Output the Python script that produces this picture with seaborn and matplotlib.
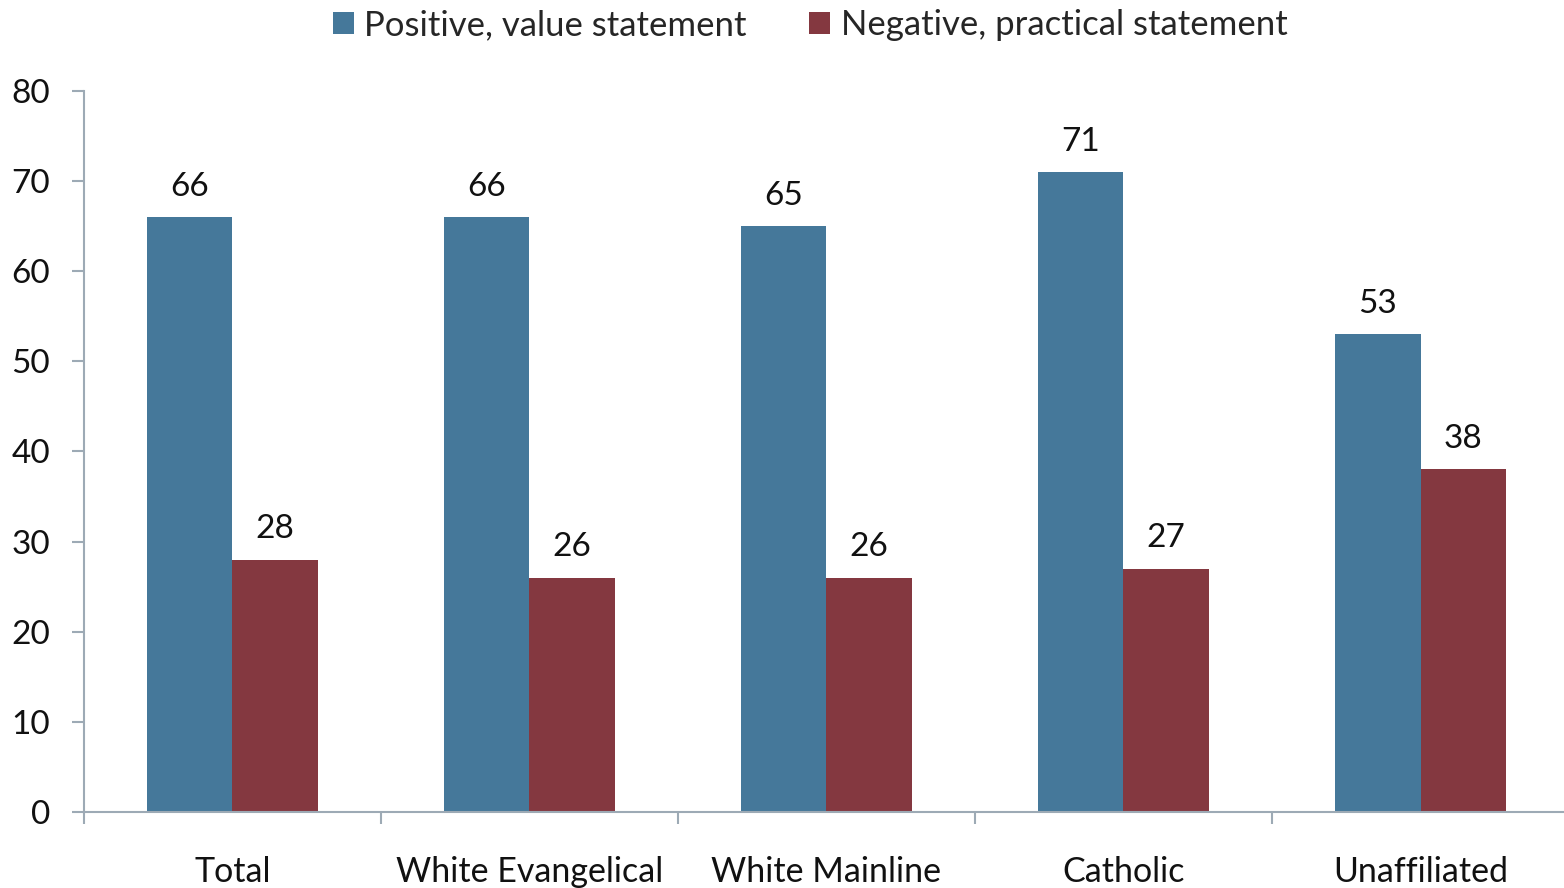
import pandas as pd
import matplotlib.pyplot as plt
import seaborn as sb

sb.set_style('white')
plt.rcParams['font.family'] = ['Lato', 'DejaVu Sans']

groups = ['Total', 'White Evangelical', 'White Mainline', 'Catholic', 'Unaffiliated']
positive = [66, 66, 65, 71, 53]
negative = [28, 26, 26, 27, 38]
series = ['Positive, value statement', 'Negative, practical statement']
colors = ['#45789A', '#843840']
axis_col = '#9DAAB5'

df = pd.DataFrame({
    'group': groups * 2,
    'value': positive + negative,
    'series': [series[0]] * 5 + [series[1]] * 5,
})

fig = plt.figure(figsize=(15.64, 8.88), dpi=100)
ax = fig.add_axes([0.0537, 0.0856, 0.9495, 0.812])

sb.barplot(data=df, x='group', y='value', hue='series', palette=colors,
           width=0.575, saturation=1, linewidth=0, ax=ax)

for c in ax.containers:
    ax.bar_label(c, padding=11, fontsize=24, color='#111111')

ax.set_ylim(0, 80)
ax.set_xlim(-0.5, 4.5)
ax.set_yticks(range(0, 81, 10))
ax.set_xlabel('')
ax.set_ylabel('')

for s in ['top', 'right']:
    ax.spines[s].set_visible(False)
for s in ['left', 'bottom']:
    ax.spines[s].set_color(axis_col)
    ax.spines[s].set_linewidth(1.5)

ax.tick_params(axis='y', length=8.6, width=1.5, color=axis_col, labelsize=24,
               pad=16, labelcolor='#111111', left=True)
ax.tick_params(axis='x', which='major', length=0, pad=32, labelsize=24.5,
               labelcolor='#111111')
ax.set_xticks([-0.5, 0.5, 1.5, 2.5, 3.5], minor=True)
ax.tick_params(axis='x', which='minor', length=8.6, width=1.5, color=axis_col,
               bottom=True)

leg = ax.legend(loc='upper center', bbox_to_anchor=(0.489, 1.157), ncol=2,
                frameon=False, fontsize=25, handlelength=0.6, handleheight=0.6,
                handletextpad=0.3, columnspacing=1.8)

fig.savefig('out.png', dpi=100)
